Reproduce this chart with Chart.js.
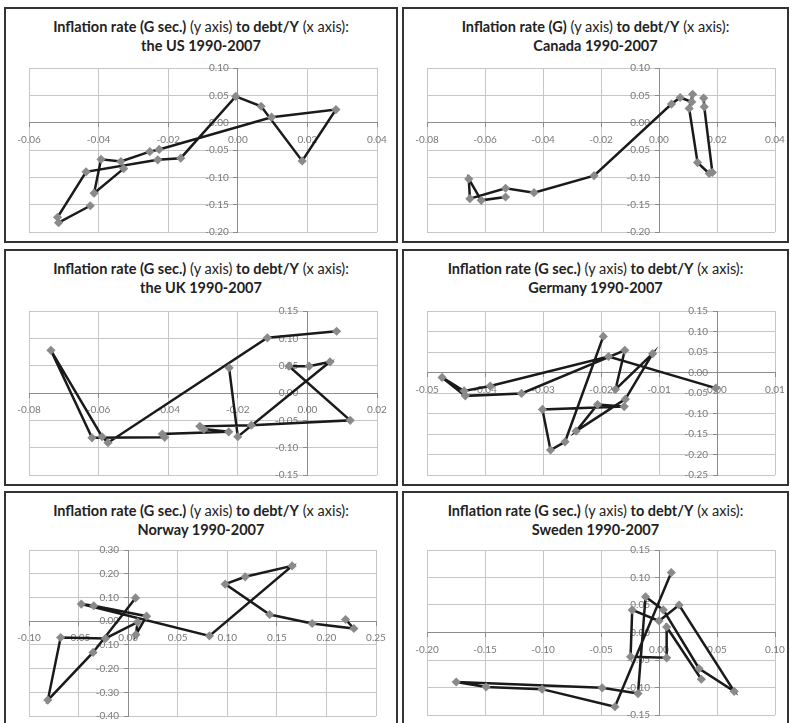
<!DOCTYPE html>
<html>
<head>
<meta charset="utf-8">
<title>Inflation rate to debt/Y, 1990-2007</title>
<script src="https://cdn.jsdelivr.net/npm/chart.js@4.4.1/dist/chart.umd.min.js"></script>
<style>
    html, body { margin: 0; padding: 0; background: #fff; }
    body { width: 790px; height: 723px; position: relative; overflow: hidden; font-family: Lato, "Open Sans", sans-serif; }
    .frame { position: absolute; box-sizing: border-box; border: 2px solid #333; }
    .head { position: absolute; text-align: center; font-size: 14.5px; line-height: 18.5px; color: #222; white-space: nowrap; }
    .head b { font-weight: 700; }
    canvas { position: absolute; }
</style>
</head>
<body>
<script>
// debt/Y (x) and inflation rate (y), one point per year
const usDebt = [-0.0328, -0.0413, -0.0393, -0.0336, -0.0253, -0.0226, 0.0097, 0.0282, 0.0185, 0.0067, -0.0006, -0.0164, -0.0230, -0.0436, -0.0518, -0.0515, -0.0424];
const usInfl = [-0.084, -0.129, -0.067, -0.071, -0.053, -0.049, 0.010, 0.024, -0.070, 0.030, 0.048, -0.065, -0.068, -0.090, -0.173, -0.183, -0.152];

const caDebt = [-0.0529, -0.0613, -0.0656, -0.0652, -0.0529, -0.0431, -0.0224, 0.0043, 0.0073, 0.0113, 0.0116, 0.0104, 0.0133, 0.0173, 0.0184, 0.0156, 0.0154];
const caInfl = [-0.136, -0.142, -0.103, -0.139, -0.120, -0.128, -0.097, 0.034, 0.046, 0.038, 0.052, 0.026, -0.073, -0.093, -0.091, 0.029, 0.045];

const ukDebt = [-0.0225, -0.0200, 0.0065, 0.0005, -0.0053, 0.0123, -0.0161, -0.0309, -0.0298, -0.0226, -0.0417, -0.0410, -0.0619, -0.0737, -0.0590, -0.0573, -0.0115, 0.0084];
const ukInfl = [0.046, -0.080, 0.057, 0.049, 0.049, -0.050, -0.059, -0.061, -0.066, -0.071, -0.075, -0.081, -0.082, 0.078, -0.080, -0.091, 0.101, 0.113];

const deDebt = [-0.0002, -0.0187, -0.0391, -0.0436, -0.0474, -0.0434, -0.0337, -0.0159, -0.0175, -0.0111, -0.0158, -0.0243, -0.0206, -0.0160, -0.0301, -0.0287, -0.0262, -0.0196];
const deInfl = [-0.038, 0.039, -0.033, -0.045, -0.012, -0.057, -0.051, 0.054, -0.041, 0.046, -0.065, -0.143, -0.078, -0.083, -0.090, -0.189, -0.169, 0.088];

const noDebt = [0.2193, 0.2277, 0.1856, 0.1427, 0.0979, 0.1181, 0.1654, 0.0820, -0.0472, -0.0347, 0.0186, 0.0078, 0.0095, -0.0229, -0.0681, -0.0810, -0.0354, 0.0075];
const noInfl = [0.007, -0.031, -0.010, 0.028, 0.156, 0.187, 0.233, -0.062, 0.072, 0.065, 0.021, -0.057, -0.004, -0.073, -0.069, -0.333, -0.132, 0.098];

const seDebt = [0.0106, -0.0380, -0.1008, -0.1491, -0.1748, -0.0490, -0.0181, -0.0116, 0.0037, 0.0345, 0.0648, 0.0173, 0.0000, -0.0231, -0.0245, 0.0066, 0.0066, 0.0365];
const seInfl = [0.109, -0.135, -0.103, -0.099, -0.090, -0.1005, -0.111, 0.065, 0.041, -0.0655, -0.107, 0.050, 0.021, 0.041, -0.044, -0.046, 0.010, -0.085];

// tick values of each axis
const usX = [-0.06, -0.04, -0.02, 0, 0.02, 0.04];
const usY = [-0.20, -0.15, -0.10, -0.05, 0, 0.05, 0.10];
const caX = [-0.08, -0.06, -0.04, -0.02, 0, 0.02, 0.04];
const caY = [-0.20, -0.15, -0.10, -0.05, 0, 0.05, 0.10];
const ukX = [-0.08, -0.06, -0.04, -0.02, 0, 0.02];
const ukY = [-0.15, -0.10, -0.05, 0, 0.05, 0.10, 0.15];
const deX = [-0.05, -0.04, -0.03, -0.02, -0.01, 0, 0.01];
const deY = [-0.25, -0.20, -0.15, -0.10, -0.05, 0, 0.05, 0.10, 0.15];
const noX = [-0.10, -0.05, 0, 0.05, 0.10, 0.15, 0.20, 0.25];
const noY = [-0.40, -0.30, -0.20, -0.10, 0, 0.10, 0.20, 0.30];
const seX = [-0.20, -0.15, -0.10, -0.05, 0, 0.05, 0.10];
const seY = [-0.15, -0.10, -0.05, 0, 0.05, 0.10, 0.15];

const fmt = v => (Math.abs(v) < 1e-9 ? 0 : v).toFixed(2);

// tick labels sit next to the axes that cross at zero, under the series
const crossLabels = {
    id: 'crossLabels',
    beforeDatasetsDraw(chart) {
        const { ctx, scales: { x, y } } = chart;
        const x0 = x.getPixelForValue(0);
        const y0 = y.getPixelForValue(0);
        ctx.save();
        ctx.font = '10px Lato';
        ctx.fillStyle = '#7a7a7a';
        ctx.textBaseline = 'middle';
        ctx.textAlign = 'center';
        x.ticks.forEach(t => ctx.fillText(fmt(t.value), x.getPixelForValue(t.value), y0 + 17));
        ctx.textAlign = 'right';
        y.ticks.forEach(t => ctx.fillText(fmt(t.value), x0 - 9, y.getPixelForValue(t.value)));
        ctx.restore();
    }
};

function axis(ticks, cross) {
    return {
        type: 'linear',
        min: ticks[0],
        max: ticks[ticks.length - 1],
        position: cross,
        afterBuildTicks: a => { a.ticks = ticks.map(v => ({ value: v })); },
        ticks: { display: false },
        grid: { color: '#c6c6c6', lineWidth: 1, tickLength: 4, tickColor: '#8c8c8c' },
        border: { display: true, color: '#8c8c8c', width: 1 }
    };
}

const panels = [
    { box: [4, 7, 394, 236], plot: [29, 68, 377, 232], head: 'Inflation rate (G sec.)', place: 'the US 1990-2007', xs: usDebt, ys: usInfl, xt: usX, yt: usY },
    { box: [402, 7, 387, 236], plot: [427, 68, 775, 232], head: 'Inflation rate (G)', place: 'Canada 1990-2007', xs: caDebt, ys: caInfl, xt: caX, yt: caY },
    { box: [4, 249, 394, 237], plot: [29, 311, 377, 475], head: 'Inflation rate (G sec.)', place: 'the UK 1990-2007', xs: ukDebt, ys: ukInfl, xt: ukX, yt: ukY },
    { box: [402, 249, 387, 237], plot: [427, 311, 775, 475], head: 'Inflation rate (G sec.)', place: 'Germany 1990-2007', xs: deDebt, ys: deInfl, xt: deX, yt: deY },
    { box: [4, 491, 394, 240], plot: [29, 550, 376, 716], head: 'Inflation rate (G sec.)', place: 'Norway 1990-2007', xs: noDebt, ys: noInfl, xt: noX, yt: noY },
    { box: [402, 491, 387, 240], plot: [427, 550, 775, 715], head: 'Inflation rate (G sec.)', place: 'Sweden 1990-2007', xs: seDebt, ys: seInfl, xt: seX, yt: seY }
];

panels.forEach(p => {
    const [bx, by, bw, bh] = p.box;
    const [px0, py0, px1, py1] = p.plot;

    const frame = document.createElement('div');
    frame.className = 'frame';
    Object.assign(frame.style, { left: bx + 'px', top: by + 'px', width: bw + 'px', height: bh + 'px' });
    document.body.appendChild(frame);

    const head = document.createElement('div');
    head.className = 'head';
    Object.assign(head.style, { left: bx + 'px', top: (by + 11) + 'px', width: bw + 'px' });
    head.innerHTML = '<b>' + p.head + '</b> (y axis) <b>to debt/Y</b> (x axis):<br><b>' + p.place + '</b>';
    document.body.appendChild(head);

    const canvas = document.createElement('canvas');
    canvas.width = bw;
    canvas.height = bh;
    Object.assign(canvas.style, { left: bx + 'px', top: by + 'px', width: bw + 'px', height: bh + 'px' });
    document.body.appendChild(canvas);

    new Chart(canvas, {
        type: 'scatter',
        data: {
            datasets: [{
                data: p.xs.map((v, i) => ({ x: v, y: p.ys[i] })),
                showLine: true,
                borderColor: '#1a1a1a',
                borderWidth: 2.5,
                tension: 0,
                pointStyle: 'rectRot',
                pointRadius: 4.6,
                pointBackgroundColor: '#8a8a8a',
                pointBorderColor: '#8a8a8a',
                pointBorderWidth: 0
            }]
        },
        options: {
            responsive: false,
            animation: false,
            layout: { padding: { left: px0 - bx, top: py0 - by, right: bx + bw - px1, bottom: by + bh - py1 } },
            plugins: { legend: { display: false }, tooltip: { enabled: false } },
            scales: {
                x: axis(p.xt, { y: 0 }),
                y: axis(p.yt, { x: 0 })
            }
        },
        plugins: [crossLabels]
    });
});
</script>
</body>
</html>
